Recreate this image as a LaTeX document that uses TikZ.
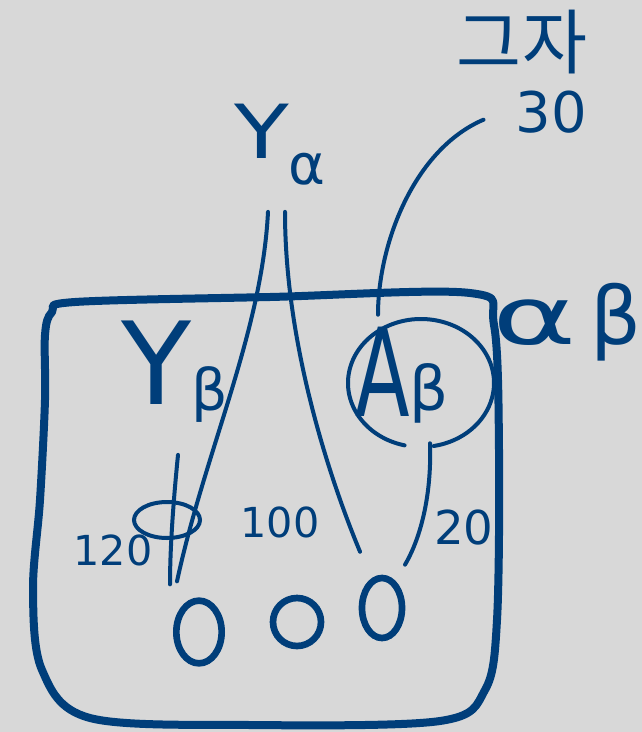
\documentclass[tikz,border=0pt]{standalone}
\usepackage{fontspec}
\usepackage{graphicx}
\usepackage{tikz}
\setmainfont{DejaVu Sans}
\newfontfamily\krfont{Noto Sans CJK KR}
\usetikzlibrary{positioning, shapes.geometric}
\definecolor{ink}{RGB}{0,62,122}
\definecolor{paper}{RGB}{216,216,216}
\newcommand{\lowsub}[3]{\raisebox{#1em}{\scalebox{#2}{#3}}}

\begin{document}
\begin{tikzpicture}[x=0.75pt, y=-0.75pt,
        handtext/.style={text=ink, inner sep=0pt},
        link/.style={draw=ink, line width=3pt, line cap=round},
        zero/.style={ellipse, draw=ink, line width=5pt, inner sep=0pt}]
    \fill[paper] (0,0) rectangle (642,732);
    \useasboundingbox (0,0) rectangle (642,732);

    % outer frame
    \draw[ink, line width=6pt, line join=round]
        plot[smooth cycle, tension=0.55] coordinates {
            (75,302) (270,297) (470,293) (494,325) (499,450) (497,620)
            (485,690) (440,721) (250,725) (90,718) (42,670) (33,590)
            (40,500) (45,400) (45,335) (52,312)};

    % labels
    \node[handtext, font=\fontsize{56}{60}\selectfont] (ya) at (280,145)
        {\scalebox{1.2}[1]{Y}\lowsub{-0.35}{0.75}{α}};
    \node[handtext, font=\fontsize{86}{90}\selectfont] (yb) at (175,372)
        {Y\lowsub{-0.05}{0.5}{β}};
    \node[handtext, font=\fontsize{92}{96}\selectfont] (ab) at (402,375)
        {\scalebox{0.65}[1]{A}\lowsub{0.05}{0.5}{β}};
    \node[handtext, font=\fontsize{60}{64}\selectfont] (frame label) at (567,322)
        {\scalebox{1.6}[1]{α}\,β};
    \node[handtext, font=\krfont\fontsize{53}{56}\selectfont] (note) at (522,42) {그자};
    \node[handtext, font=\fontsize{42}{46}\selectfont, below=12pt of note.south east, anchor=north east] (n30) {30};
    \node[handtext, font=\fontsize{31}{34}\selectfont] (n120) at (113,550) {120};
    \node[handtext, font=\fontsize{31}{34}\selectfont] (n100) at (280,522) {100};
    \node[handtext, font=\fontsize{35}{38}\selectfont] (n20) at (464,528) {20};

    % the three zeros
    \node[zero, minimum width=34pt, minimum height=47pt] (z1) at (199,632) {};
    \node[zero, minimum width=36pt, minimum height=36pt] (z2) at (297,622) {};
    \node[zero, minimum width=30pt, minimum height=45pt] (z3) at (382,608) {};

    % circle round A_beta, open at the bottom
    \draw[link] (ab) ++(19,8) ++(103:73 and 64) arc[start angle=103, end angle=440, x radius=73, y radius=64];

    % connectors
    \draw[link] ([shift={(-12,26)}]ya.south) .. controls +(-6,120) and +(28,-130) .. ([shift={(-22,-16)}]z1.north);
    \draw[link] ([shift={(5,26)}]ya.south) .. controls +(0,140) and +(-25,-60) .. ([shift={(-22,-23)}]z3.north);
    \draw[link] ([shift={(3,32)}]yb.south) .. controls +(-4,40) and +(0,-40) .. ([shift={(-29,-13)}]z1.north);
    \draw[link] ([shift={(28,20)}]ab.south) .. controls +(2,60) and +(12,-20) .. ([shift={(23,-10)}]z3.north);
    \draw[link] ([shift={(-32,8)}]n30.west) .. controls +(-70,30) and +(0,-70) .. ([shift={(-24,-12)}]ab.north);

    % small loop round the two lines
    \draw[link] (167,520) ellipse[x radius=33, y radius=18];
\end{tikzpicture}
\end{document}
